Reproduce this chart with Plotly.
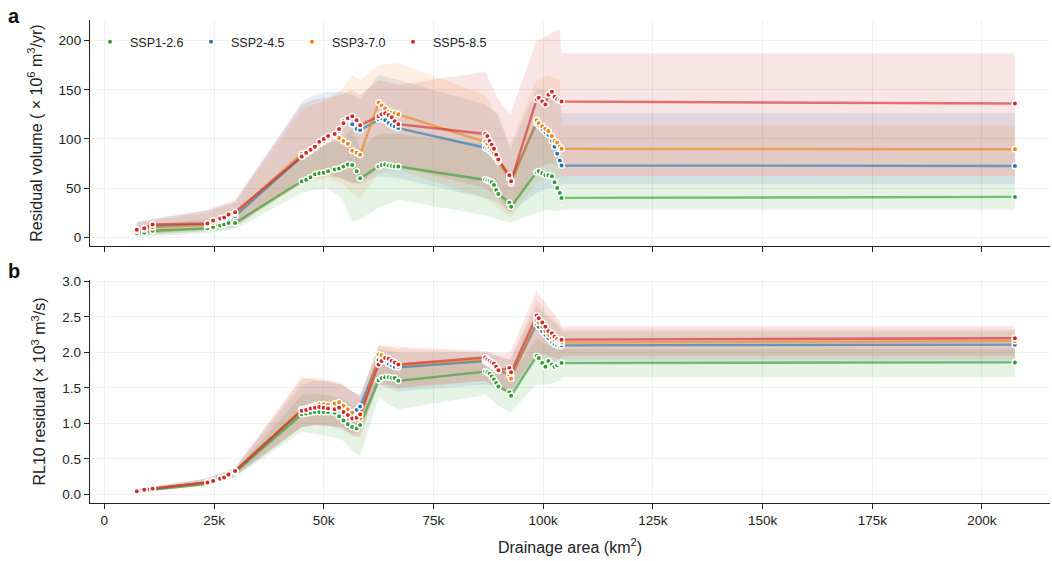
import plotly.graph_objects as go

# ---------------- data ----------------
SCENARIOS = ["SSP1-2.6", "SSP2-4.5", "SSP3-7.0", "SSP5-8.5"]
COLORS = ["#2ca02c", "#1f77b4", "#ef8412", "#d62728"]

# drainage area (km2) of each station
AREA = [7400, 9100, 11000,
        23500, 24800, 26400, 27300, 28300, 29800,
        45000, 46000, 47000, 48000, 49000, 50000, 51000, 52500, 53500, 54500, 55500, 56500, 57500, 58300,
        62500, 63200, 64000, 64800, 65500, 66200, 67000,
        86800, 87300, 87800, 88300, 88800, 89300, 89800,
        92300, 92700,
        98500, 99000, 99800, 100500, 101200, 102000, 102600, 103200, 103800, 104200,
        207500]

# panel a: residual volume (1e6 m3/yr)
VOL_SSP126 = [4, 4.5, 6.5,
              9, 10.5, 12, 13, 14.5, 14.5,
              57, 58.5, 61, 64, 65, 65.5, 67, 69, 70, 72, 74, 73.5, 67, 60,
              72, 73.5, 74, 73, 72.5, 72, 72,
              59, 58, 57, 56, 53, 48, 44,
              35, 31,
              66, 67, 65, 63, 63, 62, 56, 50, 45, 40,
              41]
VOL_SSP245 = [7, 8.5, 11.5,
              13, 15.5, 17, 18, 20, 21.5,
              82, 85, 88, 91, 95, 98, 100, 103, 108, 118, 120, 115, 110, 109,
              120, 121, 119, 116, 114, 113, 111,
              91, 90, 88, 86, 84, 81, 78,
              61, 58,
              116, 114, 110, 107, 104, 98, 92, 85, 78, 73,
              72.5]
VOL_SSP370 = [6.5, 8, 10,
              12.5, 15, 17.5, 19, 22, 24,
              85, 86, 88, 91, 95, 98, 101, 104, 101, 98, 95, 88, 86, 84,
              137, 134, 131, 128, 127, 126, 125,
              97, 95, 91, 89, 86, 82, 77,
              60, 55,
              119, 116, 113, 110, 108, 103, 98, 96, 92, 90,
              89.5]
VOL_SSP585 = [7.5, 9, 13,
              14, 17, 19, 20, 23, 25.5,
              82, 86, 89, 92, 97, 100, 103, 105, 110, 116, 121, 123, 119, 114,
              123, 125, 126, 124, 122, 118, 115,
              105, 103, 98, 94, 90, 84, 79,
              63, 57,
              140, 142, 138, 135, 145, 148, 143, 140, 139, 138,
              136]

# panel b: RL10 residual (1e3 m3/s)
RL_SSP126 = [0.03, 0.05, 0.07,
             0.15, 0.17, 0.20, 0.22, 0.26, 0.31,
             1.13, 1.14, 1.15, 1.16, 1.16, 1.16, 1.16, 1.15, 1.10, 1.04, 0.99, 0.95, 0.93, 0.98,
             1.61, 1.64, 1.65, 1.65, 1.64, 1.64, 1.60,
             1.73, 1.72, 1.70, 1.66, 1.62, 1.57, 1.52,
             1.44, 1.39,
             1.95, 1.92, 1.85, 1.80, 1.88, 1.83, 1.80, 1.82, 1.85, 1.85,
             1.86]
RL_SSP245 = [0.04, 0.06, 0.08,
             0.17, 0.19, 0.22, 0.24, 0.28, 0.33,
             1.19, 1.20, 1.22, 1.24, 1.26, 1.26, 1.24, 1.22, 1.24, 1.20, 1.17, 1.15, 1.19, 1.24,
             1.89, 1.90, 1.88, 1.84, 1.82, 1.80, 1.79,
             1.88, 1.86, 1.84, 1.82, 1.80, 1.77, 1.74,
             1.70, 1.67,
             2.40, 2.36, 2.30, 2.25, 2.20, 2.15, 2.12, 2.10, 2.09, 2.10,
             2.11]
RL_SSP370 = [0.04, 0.06, 0.08,
             0.17, 0.19, 0.22, 0.24, 0.28, 0.33,
             1.20, 1.21, 1.23, 1.25, 1.27, 1.27, 1.26, 1.28, 1.30, 1.25, 1.20, 1.15, 1.10, 1.07,
             1.97, 1.96, 1.93, 1.90, 1.87, 1.85, 1.82,
             1.90, 1.88, 1.86, 1.84, 1.82, 1.79, 1.76,
             1.68, 1.63,
             2.45, 2.42, 2.36, 2.30, 2.25, 2.20, 2.17, 2.15, 2.14, 2.14,
             2.16]
RL_SSP585 = [0.045, 0.065, 0.08,
             0.17, 0.19, 0.22, 0.24, 0.28, 0.33,
             1.18, 1.19, 1.21, 1.22, 1.23, 1.22, 1.21, 1.20, 1.22, 1.16, 1.12, 1.07, 1.08, 1.13,
             1.83, 1.88, 1.92, 1.91, 1.88, 1.86, 1.83,
             1.93, 1.90, 1.88, 1.86, 1.84, 1.80, 1.75,
             1.78, 1.72,
             2.52, 2.48, 2.42, 2.36, 2.30, 2.27, 2.22, 2.19, 2.17, 2.18,
             2.20]

# uncertainty bands (drainage area grid for bands)
BAND_AREA = [7400, 11000, 23500, 29800, 45000, 48000, 51000, 54000, 56500, 58300,
             62500, 67000, 86800, 89800, 92500, 98500, 101000, 103800, 104200, 207500]

VOL_LO_SSP126 = [0, 1, 4, 8, 45, 48, 50, 40, 16, 18, 30, 38, 22, 18, 15, 25, 28, 26, 28, 28]
VOL_HI_SSP126 = [10, 13, 18, 24, 85, 88, 95, 100, 110, 90, 105, 105, 95, 80, 60, 110, 105, 95, 62, 62]
VOL_LO_SSP245 = [1, 3, 6, 10, 60, 62, 65, 60, 55, 55, 62, 60, 40, 35, 25, 45, 50, 50, 54, 54]
VOL_HI_SSP245 = [16, 19, 27, 36, 138, 145, 148, 148, 145, 140, 165, 160, 135, 125, 90, 150, 150, 140, 126, 126]
VOL_LO_SSP370 = [1, 3, 6, 10, 55, 58, 60, 55, 45, 40, 65, 68, 40, 30, 20, 55, 60, 60, 62, 62]
VOL_HI_SSP370 = [14, 17, 25, 35, 130, 135, 140, 150, 165, 160, 175, 177, 145, 120, 95, 160, 165, 160, 114, 114]
VOL_LO_SSP585 = [2, 4, 8, 12, 55, 60, 62, 60, 55, 55, 70, 72, 50, 40, 25, 70, 75, 75, 62, 62]
VOL_HI_SSP585 = [15, 18, 28, 38, 135, 140, 142, 145, 150, 145, 160, 155, 168, 140, 125, 200, 205, 212, 187, 187]

RL_LO_SSP126 = [0.02, 0.04, 0.12, 0.24, 0.88, 0.85, 0.82, 0.78, 0.62, 0.55, 1.35, 1.20, 1.40, 1.25, 1.15, 1.55, 1.55, 1.60, 1.65, 1.65]
RL_HI_SSP126 = [0.06, 0.10, 0.20, 0.34, 1.40, 1.42, 1.40, 1.35, 1.25, 1.25, 1.85, 1.82, 1.95, 1.80, 1.65, 2.20, 2.10, 2.05, 2.05, 2.05]
RL_LO_SSP245 = [0.03, 0.05, 0.13, 0.26, 0.95, 0.98, 0.97, 0.95, 0.85, 0.90, 1.55, 1.45, 1.55, 1.50, 1.40, 1.90, 1.85, 1.80, 1.85, 1.85]
RL_HI_SSP245 = [0.07, 0.11, 0.22, 0.37, 1.55, 1.60, 1.60, 1.55, 1.45, 1.40, 2.05, 2.00, 2.00, 1.95, 1.90, 2.65, 2.50, 2.35, 2.30, 2.30]
RL_LO_SSP370 = [0.03, 0.05, 0.13, 0.26, 0.95, 0.98, 0.97, 0.95, 0.85, 0.80, 1.60, 1.50, 1.60, 1.50, 1.40, 1.95, 1.90, 1.85, 1.90, 1.90]
RL_HI_SSP370 = [0.07, 0.11, 0.22, 0.37, 1.62, 1.65, 1.62, 1.58, 1.45, 1.35, 2.10, 2.05, 2.00, 1.95, 1.90, 2.75, 2.55, 2.40, 2.33, 2.33]
RL_LO_SSP585 = [0.03, 0.05, 0.13, 0.26, 0.95, 0.98, 0.97, 0.92, 0.82, 0.82, 1.55, 1.50, 1.60, 1.50, 1.45, 2.00, 1.95, 1.90, 1.95, 1.95]
RL_HI_SSP585 = [0.07, 0.11, 0.23, 0.38, 1.65, 1.62, 1.58, 1.55, 1.45, 1.40, 2.10, 2.08, 2.02, 1.98, 2.00, 2.87, 2.65, 2.45, 2.37, 2.37]

X_TICKS = [0, 25000, 50000, 75000, 100000, 125000, 150000, 175000, 200000]
X_TICKTEXT = ["0", "25k", "50k", "75k", "100k", "125k", "150k", "175k", "200k"]
VOL_TICKS = [0, 50, 100, 150, 200]
RL_TICKS = [0.0, 0.5, 1.0, 1.5, 2.0, 2.5, 3.0]

VOL = [VOL_SSP126, VOL_SSP245, VOL_SSP370, VOL_SSP585]
RL = [RL_SSP126, RL_SSP245, RL_SSP370, RL_SSP585]
VOL_LO = [VOL_LO_SSP126, VOL_LO_SSP245, VOL_LO_SSP370, VOL_LO_SSP585]
VOL_HI = [VOL_HI_SSP126, VOL_HI_SSP245, VOL_HI_SSP370, VOL_HI_SSP585]
RL_LO = [RL_LO_SSP126, RL_LO_SSP245, RL_LO_SSP370, RL_LO_SSP585]
RL_HI = [RL_HI_SSP126, RL_HI_SSP245, RL_HI_SSP370, RL_HI_SSP585]


def rgba(hexc, a):
    h = hexc.lstrip("#")
    return "rgba(%d,%d,%d,%.3f)" % (int(h[0:2], 16), int(h[2:4], 16), int(h[4:6], 16), a)


FONT = "Arial, 'Liberation Sans', Helvetica, sans-serif"
fig = go.Figure()

panels = [("x", "y", VOL, VOL_LO, VOL_HI, True), ("x2", "y2", RL, RL_LO, RL_HI, False)]

for xa, ya, vals, los, his, legend in panels:
    # bands
    for i, name in enumerate(SCENARIOS):
        fig.add_trace(go.Scatter(x=BAND_AREA, y=los[i], mode="lines", line=dict(width=0),
                                 hoverinfo="skip", showlegend=False, xaxis=xa, yaxis=ya))
        fig.add_trace(go.Scatter(x=BAND_AREA, y=his[i], mode="lines", line=dict(width=0),
                                 fill="tonexty", fillcolor=rgba(COLORS[i], 0.12),
                                 hoverinfo="skip", showlegend=False, xaxis=xa, yaxis=ya))
    # lines
    for i, name in enumerate(SCENARIOS):
        fig.add_trace(go.Scatter(x=AREA, y=vals[i], mode="lines",
                                 line=dict(color=rgba(COLORS[i], 0.62), width=2.4),
                                 showlegend=False, xaxis=xa, yaxis=ya))
    # station markers
    for i, name in enumerate(SCENARIOS):
        fig.add_trace(go.Scatter(x=AREA, y=vals[i], mode="markers", name=name,
                                 marker=dict(color=COLORS[i], size=5.5,
                                             line=dict(color="white", width=1.5)),
                                 showlegend=legend, legendgroup=name, xaxis=xa, yaxis=ya))

axis_common = dict(showline=True, linecolor="#222", linewidth=1.3, ticks="outside",
                   ticklen=5, tickwidth=1.2, tickcolor="#222", showgrid=True,
                   gridcolor="#f0f0f0", gridwidth=1, zeroline=False,
                   tickfont=dict(size=13.5, color="#222", family=FONT))

XR = [-3260, 215500]
fig.update_layout(
    width=1052, height=561,
    margin=dict(l=90, r=2, t=20, b=58),
    paper_bgcolor="white", plot_bgcolor="white",
    font=dict(family=FONT, color="#222"),
    xaxis=dict(axis_common, domain=[0, 1], range=XR, tickvals=X_TICKS, ticktext=X_TICKTEXT,
               showticklabels=False, anchor="y", matches="x2"),
    yaxis=dict(axis_common, domain=[0.532, 1], range=[-9, 221], tickvals=VOL_TICKS,
               title=dict(text="Residual volume ( × 10<sup>6</sup> m<sup>3</sup>/yr)",
                          font=dict(size=16, family=FONT, color="#222"), standoff=12),
               anchor="x"),
    xaxis2=dict(axis_common, domain=[0, 1], range=XR, tickvals=X_TICKS, ticktext=X_TICKTEXT,
                anchor="y2",
                title=dict(text="Drainage area (km<sup>2</sup>)",
                           font=dict(size=16, family=FONT, color="#222"), standoff=14)),
    yaxis2=dict(axis_common, domain=[0, 0.4617], range=[-0.12, 3.02], tickvals=RL_TICKS,
                tickformat=".1f",
                title=dict(text="RL10 residual (× 10<sup>3</sup> m<sup>3</sup>/s)",
                           font=dict(size=16, family=FONT, color="#222"), standoff=12),
                anchor="x2"),
    legend=dict(orientation="h", x=0.0, y=0.985, xanchor="left", yanchor="top",
                bgcolor="rgba(0,0,0,0)", font=dict(size=12.5, family=FONT, color="#222"),
                entrywidth=56, entrywidthmode="pixels", itemwidth=30, tracegroupgap=0),
    showlegend=True,
    annotations=[
        dict(text="<b>a</b>", xref="paper", yref="paper", x=-0.088, y=1.036,
             xanchor="left", yanchor="top", showarrow=False,
             font=dict(size=20, family=FONT, color="#111")),
        dict(text="<b>b</b>", xref="paper", yref="paper", x=-0.088, y=0.507,
             xanchor="left", yanchor="top", showarrow=False,
             font=dict(size=20, family=FONT, color="#111")),
    ],
)

fig.write_html("out.html")
